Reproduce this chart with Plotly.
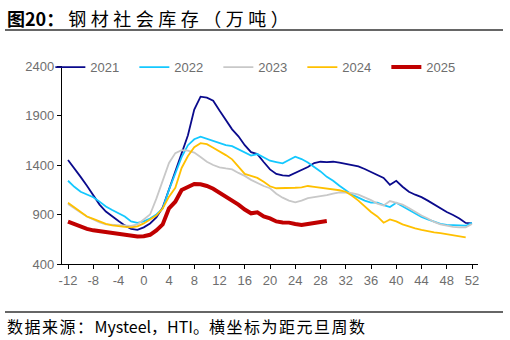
import plotly.graph_objects as go

weeks = list(range(-12, 53))

y2021 = [1450, 1370, 1280, 1190, 1100, 1000, 930, 880, 835, 790, 755, 745, 770, 810, 870, 970,
         1150, 1320, 1500, 1700, 1960, 2090, 2080, 2050, 1950, 1860, 1760, 1690, 1600, 1530, 1510,
         1430, 1356, 1310, 1295, 1290, 1320, 1345, 1380, 1420, 1433, 1430, 1433, 1425, 1410, 1400,
         1385, 1360, 1330, 1300, 1270, 1200, 1240, 1180, 1130, 1100, 1075, 1040, 1000, 962, 925,
         895, 860, 815, 811]
y2022 = [1241, 1180, 1130, 1100, 1075, 1030, 980, 945, 910, 880, 830, 815, 830, 860, 900, 960,
         1150, 1320, 1480, 1600, 1660, 1686, 1665, 1636, 1620, 1600, 1590, 1560, 1530, 1495, 1511,
         1480, 1443, 1430, 1417, 1450, 1484, 1460, 1425, 1380, 1335, 1280, 1240, 1190, 1145, 1100,
         1070, 1040, 1020, 1020, 995, 975, 1019, 985, 945, 910, 875, 850, 825, 805, 795, 790, 788,
         787, 817]
y2023 = [1006, 960, 920, 880, 850, 820, 800, 795, 790, 785, 785, 800, 850, 900, 1060, 1250,
         1420, 1520, 1550, 1545, 1525, 1480, 1433, 1400, 1377, 1365, 1356, 1320, 1290, 1250, 1215,
         1188, 1165, 1110, 1070, 1040, 1023, 1040, 1065, 1075, 1080, 1095, 1110, 1124, 1122, 1115,
         1100, 1075, 1045, 1010, 990, 1036, 1020, 1000, 965, 925, 890, 860, 825, 800, 785, 775,
         770, 770, 804]
y2024 = [1019, 970, 920, 880, 855, 830, 805, 790, 780, 775, 770, 780, 810, 850, 890, 960,
         1080, 1170, 1370, 1490, 1580, 1620, 1610, 1575, 1540, 1500, 1457, 1380, 1310, 1290, 1270,
         1230, 1185, 1165, 1165, 1165, 1170, 1175, 1188, 1180, 1172, 1165, 1155, 1145, 1130, 1090,
         1040, 980, 925, 880, 817, 850, 830, 800, 777, 760, 745, 730, 720, 712, 703, 695, 685,
         670, None]
y2025 = [827, 800, 775, 755, 740, 730, 720, 712, 705, 695, 685, 678, 680, 695, 740, 800,
         962, 1029, 1147, 1180, 1208, 1205, 1188, 1160, 1120, 1090, 1040, 1000, 950, 912, 922,
         880, 861, 830, 820, 818, 805, 794, 805, 817, 825, 834]

series_names = ["2021", "2022", "2023", "2024", "2025"]
series_values = [y2021, y2022, y2023, y2024, y2025]
colors = ["#0A0A8C", "#14C8FF", "#C8C8C8", "#FFC000", "#C00000"]
widths = [1.8, 1.8, 1.8, 1.8, 4]

x_ticks = list(range(-12, 53, 4))
y_ticks = [400, 900, 1400, 1900, 2400]

fig = go.Figure()
for name, vals, c, w in zip(series_names, series_values, colors, widths):
    fig.add_trace(go.Scatter(x=weeks[:len(vals)], y=vals, name=name, mode="lines",
                             line=dict(color=c, width=w), connectgaps=False))

tick_font = dict(family="Arial, Liberation Sans, sans-serif", size=13, color="#6E6E6E")

fig.update_layout(
    width=510, height=340,
    margin=dict(l=62, r=32, t=66, b=76),
    paper_bgcolor="white", plot_bgcolor="white",
    showlegend=True,
    legend=dict(orientation="h", x=-0.028, y=1.07, xanchor="left", yanchor="top",
                font=tick_font, bgcolor="rgba(0,0,0,0)",
                entrywidth=39, entrywidthmode="pixels", itemwidth=30,
                tracegroupgap=0),
    xaxis=dict(range=[-12.95, 52.95], tickvals=x_ticks, ticktext=[str(v) for v in x_ticks],
               showgrid=False, zeroline=False, showline=True, linecolor="black", linewidth=1.3,
               ticks="outside", ticklen=4, tickcolor="black", tickfont=tick_font),
    yaxis=dict(range=[400, 2400], tickvals=y_ticks, ticktext=[str(v) for v in y_ticks],
               showgrid=False, zeroline=False, showline=True, linecolor="black", linewidth=1.3,
               ticks="outside", ticklen=4, tickcolor="black", tickfont=tick_font),
)

cjk = "Noto Sans CJK SC"
fig.add_annotation(xref="paper", yref="paper", x=(5 - 62) / 416, y=(264 - 18) / 198,
                   xanchor="left", yanchor="middle", showarrow=False,
                   text="<b>图20：</b> <span style=\"letter-spacing:4.5px\">钢材社会库存（万吨）</span>",
                   font=dict(family=cjk, size=18, color="black"))
fig.add_annotation(xref="paper", yref="paper", x=(5 - 62) / 416, y=(264 - 326) / 198,
                   xanchor="left", yanchor="middle", showarrow=False,
                   text="<span style=\"letter-spacing:1.5px\">数据来源：</span>Mysteel，HTI。"
                        "<span style=\"letter-spacing:1.5px\">横坐标为距元旦周数</span>",
                   font=dict(family=cjk, size=16, color="black"))
fig.add_shape(type="line", xref="paper", yref="paper",
              x0=(5 - 62) / 416, x1=(503 - 62) / 416, y0=(264 - 30) / 198, y1=(264 - 30) / 198,
              line=dict(color="#333333", width=1.3))
fig.add_shape(type="line", xref="paper", yref="paper",
              x0=(5 - 62) / 416, x1=(503 - 62) / 416, y0=(264 - 312) / 198, y1=(264 - 312) / 198,
              line=dict(color="#333333", width=1.3))

fig.write_html("out.html")
